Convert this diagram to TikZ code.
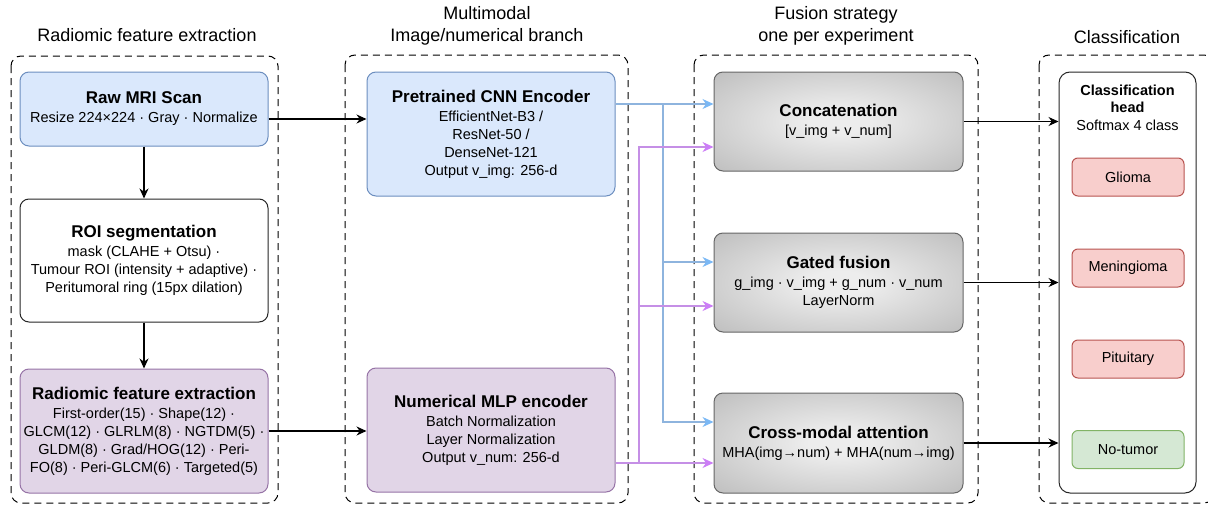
\documentclass[tikz,border=0pt]{standalone}
\usepackage{fontspec}
\setmainfont{Liberation Sans}
\usetikzlibrary{arrows.meta}

\definecolor{bluefill}{HTML}{DAE8FC}
\definecolor{bluedraw}{HTML}{6C8EBF}
\definecolor{purfill}{HTML}{E1D5E7}
\definecolor{purdraw}{HTML}{9673A6}
\definecolor{redfill}{HTML}{F8CECC}
\definecolor{reddraw}{HTML}{B85450}
\definecolor{grnfill}{HTML}{D5E8D4}
\definecolor{grndraw}{HTML}{82B366}
\definecolor{fusdraw}{HTML}{666666}
\definecolor{fusin}{HTML}{EDEDED}
\definecolor{fusout}{HTML}{A8A8A8}
\definecolor{imgline}{HTML}{8EB4DE}
\definecolor{imgtip}{HTML}{7AB8F5}
\definecolor{numline}{HTML}{C58FE6}
\definecolor{numtip}{HTML}{CC7DF7}

\pgfdeclareradialshading{fusshade}{\pgfpoint{0bp}{0bp}}{color(0bp)=(fusin); color(6bp)=(fusin); color(50bp)=(fusout); color(75bp)=(fusout)}

\newcommand{\hdr}[1]{{\fontsize{17}{20}\selectfont\bfseries #1}\\[1pt]}
\newcommand{\grp}[4]{\draw[grp] (#1,#2) rectangle (#3,#4);}

\tikzset{
	box/.style={draw, rounded corners=9pt, line width=1pt, align=center, inner sep=0pt,
		font=\fontsize{14.5}{18}\selectfont},
	bluebox/.style={box, fill=bluefill, draw=bluedraw},
	purbox/.style={box, fill=purfill, draw=purdraw},
	whtbox/.style={box, fill=white, draw=black!85},
	fusbox/.style={box, draw=fusdraw, shading=fusshade},
	clsbox/.style={box, rounded corners=6pt, minimum width=112pt, minimum height=38pt},
	grp/.style={draw=black, line width=1pt, dash pattern=on 7pt off 5pt, rounded corners=10pt},
	hdrtxt/.style={align=center, font=\fontsize{18}{22}\selectfont},
	arr/.style={line width=1.1pt, -{Stealth[length=10pt,width=9pt]}},
	imgarr/.style={line width=1.1pt, draw=imgline, -{Stealth[length=11pt,width=10pt,color=imgtip]}},
	numarr/.style={line width=1.1pt, draw=numline, -{Stealth[length=11pt,width=10pt,color=numtip]}},
}

\begin{document}
\begin{tikzpicture}[x=1pt,y=-1pt]
	\useasboundingbox (0,0) rectangle (1208,506);

	% group frames
	\grp{11}{56}{278}{503}
	\grp{345}{55}{628}{503}
	\grp{694}{55}{978}{503}
	\grp{1039}{55}{1214}{503}

	\node[hdrtxt] (h1) at (147,35) {Radiomic feature extraction};
	\node[hdrtxt] (h2) at (487,26) {Multimodal\\Image/numerical branch};
	\node[hdrtxt] (h3) at (836,26) {Fusion strategy\\one per experiment};
	\node[hdrtxt] (h4) at (1127,37) {Classification};

	% radiomic column
	\node[bluebox, minimum width=248pt, minimum height=74pt] (raw) at (144,109)
		{\hdr{Raw MRI Scan}Resize 224×224 · Gray · Normalize};
	\node[whtbox, minimum width=248pt, minimum height=123pt] (roi) at (144,260.5)
		{\hdr{ROI segmentation}mask (CLAHE + Otsu) ·\\Tumour ROI (intensity + adaptive) ·\\Peritumoral ring (15px dilation)};
	\node[purbox, minimum width=248pt, minimum height=124pt] (rad) at (144,431)
		{\hdr{Radiomic feature extraction}First-order(15) · Shape(12) ·\\GLCM(12) · GLRLM(8) · NGTDM(5) ·\\GLDM(8) · Grad/HOG(12) · Peri-\\FO(8) · Peri-GLCM(6) · Targeted(5)};

	% encoders
	\node[bluebox, minimum width=248pt, minimum height=124pt] (cnn) at (491,134)
		{\hdr{Pretrained CNN Encoder}EfficientNet-B3 /\\ResNet-50 /\\DenseNet-121\\Output v\_img: 256-d};
	\node[purbox, minimum width=248pt, minimum height=124pt] (mlp) at (491,430)
		{\hdr{Numerical MLP encoder}Batch Normalization\\Layer Normalization\\Output v\_num: 256-d};

	% fusion
	\node[fusbox, minimum width=249pt, minimum height=99pt] (cat) at (838.5,121.5)
		{\hdr{Concatenation}{[}v\_img + v\_num{]}};
	\node[fusbox, minimum width=249pt, minimum height=99pt] (gate) at (838.5,282.5)
		{\hdr{Gated fusion}g\_img · v\_img + g\_num · v\_num\\LayerNorm};
	\node[fusbox, minimum width=249pt, minimum height=100pt] (xatt) at (838.5,443)
		{\hdr{Cross-modal attention}MHA(img→num) + MHA(num→img)};

	% classification
	\node[whtbox, rounded corners=11pt, minimum width=137pt, minimum height=421pt] (head) at (1127.5,282.5) {};
	\node[align=center, anchor=north, inner sep=0pt, font=\fontsize{14.5}{17.5}\selectfont] (headtxt)
		at ([yshift=-13pt]head.north) {\textbf{Classification}\\\textbf{head}\\Softmax 4 class};
	\node[clsbox, fill=redfill, draw=reddraw] (glioma) at (1128,177) {Glioma};
	\node[clsbox, fill=redfill, draw=reddraw] (menin) at (1128,268) {Meningioma};
	\node[clsbox, fill=redfill, draw=reddraw] (pitu) at (1128,359) {Pituitary};
	\node[clsbox, fill=grnfill, draw=grndraw] (notum) at (1128,449.5) {No-tumor};

	% connectors
	\draw[arr] (raw) -- (roi);
	\draw[arr] (roi) -- (rad);
	\draw[arr] ([yshift=-10pt]raw.east) -- ([yshift=-10pt]raw.east -| cnn.west);
	\draw[arr] (rad.east) -- (rad.east -| mlp.west);

	\coordinate (bsplit) at (663,104);
	\coordinate (psplit) at (639,463);
	\draw[imgarr] ([yshift=30pt]cnn.east) -- ([yshift=30pt]cnn.east -| cat.west);
	\draw[imgarr] (bsplit) |- ([yshift=20.5pt]gate.west);
	\draw[imgarr] (bsplit) |- ([yshift=21pt]xatt.west);
	\draw[numarr] ([yshift=-33pt]mlp.east) -- ([yshift=-33pt]mlp.east -| xatt.west);
	\draw[numarr] (psplit) |- ([yshift=-25.5pt]cat.west);
	\draw[numarr] (psplit) |- ([yshift=-23.5pt]gate.west);

	\draw[arr] (cat.east) -- (cat.east -| head.west);
	\draw[arr] (gate.east) -- (gate.east -| head.west);
	\draw[arr] (xatt.east) -- (xatt.east -| head.west);
\end{tikzpicture}
\end{document}
